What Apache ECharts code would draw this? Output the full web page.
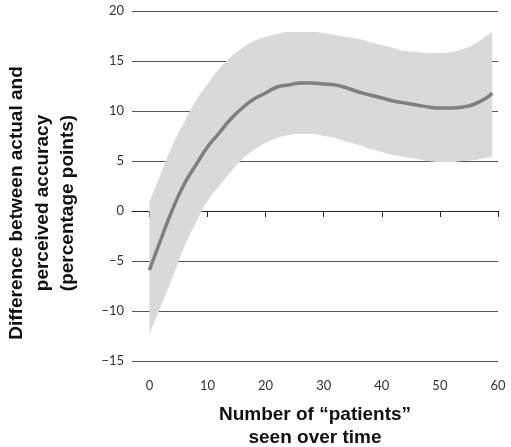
<!DOCTYPE html>
<html>
<head>
<meta charset="utf-8">
<script src="https://cdn.jsdelivr.net/npm/echarts@6/dist/echarts.min.js"></script>
<style>html,body{margin:0;padding:0;background:#fff}#c{width:511px;height:447px}</style>
</head>
<body>
<div id="c"></div>
<script>
const xs =    [0, 2, 4, 6, 8, 10, 12, 14, 16, 18, 20, 22, 24, 26, 28, 30, 32, 34, 36, 38, 40, 42, 44, 46, 48, 50, 52, 54, 56, 58, 59];
const fit =   [-5.9, -2.8, 0.2, 2.7, 4.6, 6.4, 7.8, 9.2, 10.3, 11.2, 11.8, 12.4, 12.6, 12.8, 12.8, 12.7, 12.6, 12.3, 11.9, 11.6, 11.3, 11.0, 10.8, 10.6, 10.4, 10.3, 10.3, 10.4, 10.7, 11.3, 11.8];
const upper = [0.9, 3.8, 6.6, 8.9, 11.0, 12.7, 14.2, 15.4, 16.3, 17.0, 17.4, 17.7, 17.9, 17.9, 17.9, 17.8, 17.6, 17.4, 17.2, 16.9, 16.6, 16.3, 16.0, 15.9, 15.8, 15.8, 15.9, 16.2, 16.7, 17.5, 17.9];
const lower = [-12.3, -9.5, -6.6, -3.6, -1.2, 1.0, 2.5, 3.9, 5.2, 6.1, 6.8, 7.3, 7.6, 7.7, 7.7, 7.5, 7.3, 6.9, 6.6, 6.2, 5.9, 5.6, 5.4, 5.2, 5.0, 4.9, 4.9, 5.0, 5.1, 5.3, 5.4];
const xTicks = [0, 10, 20, 30, 40, 50, 60];
const yTicks = [-15, -10, -5, 0, 5, 10, 15, 20];
const xTitle = 'Number of \u201cpatients\u201d\nseen over time';
const yTitle = 'Difference between actual and\nperceived accuracy\n(percentage points)';

const chart = echarts.init(document.getElementById('c'), null, {renderer: 'canvas'});
const labelFont = {fontFamily: 'Lato', fontSize: 13, color: '#333'};
// band rows are [y, x] so that the stacked dimension is y
const lowerRows = xs.map((x, i) => [lower[i], x]);
const widthRows = xs.map((x, i) => [upper[i] - lower[i], x]);
chart.setOption({
  animation: false,
  grid: {left: 132, right: 13, top: 11, bottom: 86, containLabel: false, outerBoundsMode: 'none'},
  xAxis: {
    type: 'value', min: -3, max: 60,
    axisLine: {show: true, lineStyle: {color: '#222', width: 1}},
    axisTick: {show: true, customValues: xTicks, length: 6, inside: false, lineStyle: {color: '#222'}},
    axisLabel: Object.assign({customValues: xTicks, margin: 18}, labelFont),
    splitLine: {show: false},
    name: xTitle, nameLocation: 'middle', nameGap: 42,
    nameTextStyle: {fontFamily: 'Liberation Sans', fontWeight: 'bold', fontSize: 19, color: '#111', lineHeight: 23}
  },
  yAxis: {
    type: 'value', min: -15, max: 20, interval: 5,
    axisLine: {show: false}, axisTick: {show: false},
    axisLabel: Object.assign({margin: 8, formatter: v => String(v).replace('-', '\u2212')}, labelFont),
    splitLine: {show: true, lineStyle: {color: '#555', width: 1}},
    name: yTitle, nameLocation: 'middle', nameGap: 51, nameRotate: 90,
    nameTextStyle: {fontFamily: 'Liberation Sans', fontWeight: 'bold', fontSize: 19, color: '#111', lineHeight: 25.5, padding: [0, 34, 0, 0]}
  },
  series: [
    {type: 'line', stack: 'ci', stackStrategy: 'all', data: lowerRows, encode: {x: 1, y: 0}, smooth: true, symbol: 'none', lineStyle: {width: 0, opacity: 0}, silent: true},
    {type: 'line', stack: 'ci', stackStrategy: 'all', data: widthRows, encode: {x: 1, y: 0}, smooth: true, symbol: 'none', lineStyle: {width: 0, opacity: 0}, areaStyle: {color: '#d9d9d9', opacity: 1}, silent: true},
    {type: 'line', data: xs.map((x, i) => [x, fit[i]]), smooth: true, symbol: 'none', lineStyle: {color: '#7f7f7f', width: 3.5}, z: 5}
  ]
});
</script>
</body>
</html>
